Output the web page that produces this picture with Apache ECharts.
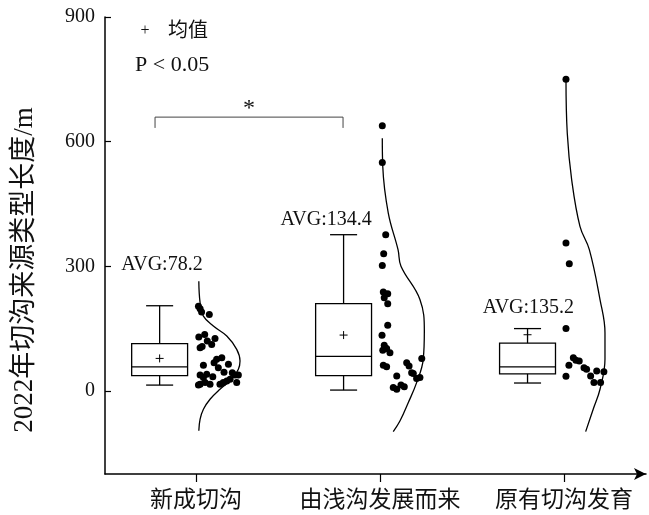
<!DOCTYPE html>
<html>
<head>
<meta charset="utf-8">
<script src="https://cdn.jsdelivr.net/npm/echarts@6/dist/echarts.min.js"></script>
<style>
html, body { margin: 0; padding: 0; background: #fff; }
#container { width: 649px; height: 515px; }
</style>
</head>
<body>
<div id="container"></div>
<script>
var categories = ['新成切沟', '由浅沟发展而来', '原有切沟发育'];
// min, q1, median, q3, max
var boxStats = [
  [14, 37, 58, 114, 205],
  [2, 37, 83, 210, 376],
  [19, 41, 58, 115, 150]
];
var means = [78.2, 134.4, 135.2];
var yTicks = [0, 300, 600, 900];

// raw points: [jitter, length]
var points1 = [
  [0.013, 204], [0.022, 198], [0.030, 190], [0.072, 184],
  [0.015, 130], [0.047, 136], [0.061, 120], [0.103, 126], [0.033, 107], [0.085, 112], [0.022, 104],
  [0.112, 76], [0.140, 80], [0.098, 68], [0.121, 56], [0.176, 64], [0.040, 62], [0.152, 45],
  [0.022, 38], [0.058, 40], [0.091, 34], [0.040, 32], [0.197, 44], [0.212, 38], [0.230, 38],
  [0.221, 20], [0.185, 28], [0.167, 24], [0.148, 20], [0.130, 16], [0.022, 16], [0.049, 20],
  [0.076, 16], [0.013, 14]
];
var points2 = [
  [0.0125, 638], [0.0125, 550], [0.031, 376], [0.020, 330], [0.0125, 302],
  [0.018, 238], [0.042, 234], [0.023, 224], [0.042, 210], [0.042, 158], [0.011, 134],
  [0.023, 110], [0.036, 102], [0.015, 98], [0.054, 92], [0.027, 104],
  [0.018, 62], [0.036, 58], [0.145, 68], [0.158, 60], [0.227, 78], [0.172, 44],
  [0.091, 36], [0.181, 42], [0.199, 30], [0.217, 32], [0.072, 8], [0.091, 4],
  [0.114, 14], [0.132, 10]
];
var points3 = [
  [0.011, 750], [0.011, 356], [0.029, 306], [0.011, 150],
  [0.051, 80], [0.065, 74], [0.083, 72], [0.109, 56], [0.123, 52], [0.027, 62],
  [0.011, 35], [0.145, 36], [0.178, 48], [0.217, 46], [0.163, 20], [0.199, 20]
];

// density curves: [width, length]
var curve1 = [
  [0.015, 264], [0.022, 212], [0.040, 180], [0.094, 156], [0.167, 132], [0.221, 100],
  [0.239, 72], [0.230, 52], [0.194, 28], [0.130, 4], [0.076, -20], [0.040, -44],
  [0.022, -68], [0.015, -96]
];
var curve2 = [
  [0.0125, 608], [0.015, 540], [0.045, 428], [0.098, 340], [0.114, 300], [0.217, 220],
  [0.241, 144], [0.235, 76], [0.199, 20], [0.154, -28], [0.109, -72], [0.072, -98]
];
var curve3 = [
  [0.011, 750], [0.018, 620], [0.042, 508], [0.087, 396], [0.138, 340], [0.196, 220],
  [0.223, 140], [0.223, 76], [0.196, 4], [0.159, -44], [0.118, -98]
];

var pointSets = [points1, points2, points3];
var curveSets = [curve1, curve2, curve3];

var serif = '"Liberation Serif", "Times New Roman", "Noto Sans CJK SC", serif';
var boxOffset = -0.198;
var boxWidth = 0.304;
var capWidth = 0.147;

var dom = document.getElementById('container');
var myChart = echarts.init(dom);

function renderBox(params, api) {
  var x = api.value(0);
  var lo = api.coord([x, api.value(1)]);
  var q1 = api.coord([x, api.value(2)]);
  var med = api.coord([x, api.value(3)]);
  var q3 = api.coord([x, api.value(4)]);
  var hi = api.coord([x, api.value(5)]);
  var mean = api.coord([x, api.value(6)]);
  var w = api.size([boxWidth, 0])[0];
  var cw = api.size([capWidth, 0])[0];
  var cx = lo[0];
  var st = { stroke: '#000', lineWidth: 1.3 };
  return {
    type: 'group',
    children: [
      { type: 'line', shape: { x1: cx, y1: q3[1], x2: cx, y2: hi[1] }, style: st },
      { type: 'line', shape: { x1: cx, y1: q1[1], x2: cx, y2: lo[1] }, style: st },
      { type: 'line', shape: { x1: cx - cw / 2, y1: hi[1], x2: cx + cw / 2, y2: hi[1] }, style: st },
      { type: 'line', shape: { x1: cx - cw / 2, y1: lo[1], x2: cx + cw / 2, y2: lo[1] }, style: st },
      { type: 'rect', shape: { x: cx - w / 2, y: q3[1], width: w, height: q1[1] - q3[1] },
        style: { stroke: '#000', fill: 'rgba(255,255,255,0)', lineWidth: 1.3 } },
      { type: 'line', shape: { x1: cx - w / 2, y1: med[1], x2: cx + w / 2, y2: med[1] }, style: st },
      { type: 'line', shape: { x1: cx - 4, y1: mean[1], x2: cx + 4, y2: mean[1] }, style: { stroke: '#000', lineWidth: 1 } },
      { type: 'line', shape: { x1: cx, y1: mean[1] - 4, x2: cx, y2: mean[1] + 4 }, style: { stroke: '#000', lineWidth: 1 } }
    ]
  };
}

var boxData = boxStats.map(function (b, i) {
  return [i + 1 + boxOffset].concat(b).concat([means[i]]);
});

var series = [];
series.push({
  type: 'custom',
  renderItem: renderBox,
  encode: { x: 0, y: [1, 2, 3, 4, 5, 6] },
  data: boxData,
  z: 3
});

pointSets.forEach(function (pts, i) {
  series.push({
    type: 'scatter',
    symbolSize: 7,
    itemStyle: { color: '#000', opacity: 1 },
    data: pts.map(function (p) { return [i + 1 + p[0], p[1]]; }),
    z: 4
  });
});

curveSets.forEach(function (c, i) {
  series.push({
    type: 'line',
    smooth: 0.4,
    showSymbol: false,
    lineStyle: { color: '#000', width: 1.3 },
    data: c.map(function (p) { return [i + 1 + p[0], p[1]]; }),
    z: 2
  });
});

// AVG labels
var avgAnchors = [[0.815, 304], [1.707, 412], [2.807, 201]];
series.push({
  type: 'scatter',
  symbolSize: 1,
  itemStyle: { color: 'rgba(0,0,0,0)', opacity: 1 },
  data: avgAnchors.map(function (a, i) {
    return { value: a, label: { formatter: 'AVG:' + means[i] } };
  }),
  label: {
    show: true, position: 'inside', color: '#111',
    fontFamily: serif, fontSize: 20
  },
  z: 5
});

// significance bracket between group 1 and 2
series.push({
  type: 'line',
  symbol: 'none',
  lineStyle: { color: '#444', width: 1 },
  data: [[0.777, 633], [0.777, 659], [1.799, 659], [1.799, 633]],
  z: 5
});
series.push({
  type: 'scatter',
  symbolSize: 1,
  itemStyle: { color: 'rgba(0,0,0,0)', opacity: 1 },
  data: [[1.288, 659]],
  label: { show: true, formatter: '*', position: 'top', distance: -4, color: '#111', fontFamily: serif, fontSize: 24 },
  z: 5
});

option = {
  animation: false,
  backgroundColor: '#fff',
  grid: { left: 105, right: 3, top: 17, bottom: 41 },
  xAxis: {
    type: 'value',
    min: 0.505,
    max: 3.446,
    splitLine: { show: false },
    axisLine: { onZero: false, lineStyle: { color: '#000', width: 1.5 }, symbol: ['none', 'arrow'], symbolSize: [9, 12] },
    axisTick: { customValues: [1, 2, 3], length: 8, lineStyle: { color: '#000', width: 1.2 } },
    axisLabel: {
      customValues: [1, 2, 3],
      formatter: function (v) { return categories[Math.round(v) - 1]; },
      margin: 15, color: '#111', fontSize: 23, fontFamily: serif
    }
  },
  yAxis: {
    type: 'value',
    min: -200,
    max: 900,
    splitLine: { show: false },
    axisLine: { show: true, onZero: false, lineStyle: { color: '#000', width: 1.5 } },
    axisTick: { show: true, inside: true, customValues: yTicks, length: 6, lineStyle: { color: '#000', width: 1.2 } },
    axisLabel: { customValues: yTicks, margin: 10, color: '#111', fontSize: 20, fontFamily: serif }
  },
  graphic: [
    { type: 'text', x: 25, y: 270, rotation: Math.PI / 2,
      style: { text: '2022年切沟来源类型长度/m', x: 0, y: 0, fill: '#111', font: '27px ' + serif, textAlign: 'center', textVerticalAlign: 'middle' } },
    { type: 'text', x: 145, y: 31, style: { text: '+', fill: '#111', font: '16px ' + serif, textAlign: 'center', textVerticalAlign: 'middle' } },
    { type: 'text', x: 168, y: 32, style: { text: '均值', fill: '#111', font: '20px ' + serif, textAlign: 'left', textVerticalAlign: 'middle' } },
    { type: 'text', x: 135, y: 65, style: { text: 'P < 0.05', fill: '#111', font: '22px ' + serif, textAlign: 'left', textVerticalAlign: 'middle' } }
  ],
  series: series
};

if (option && typeof option === 'object') {
  myChart.setOption(option, true);
}
</script>
</body>
</html>
